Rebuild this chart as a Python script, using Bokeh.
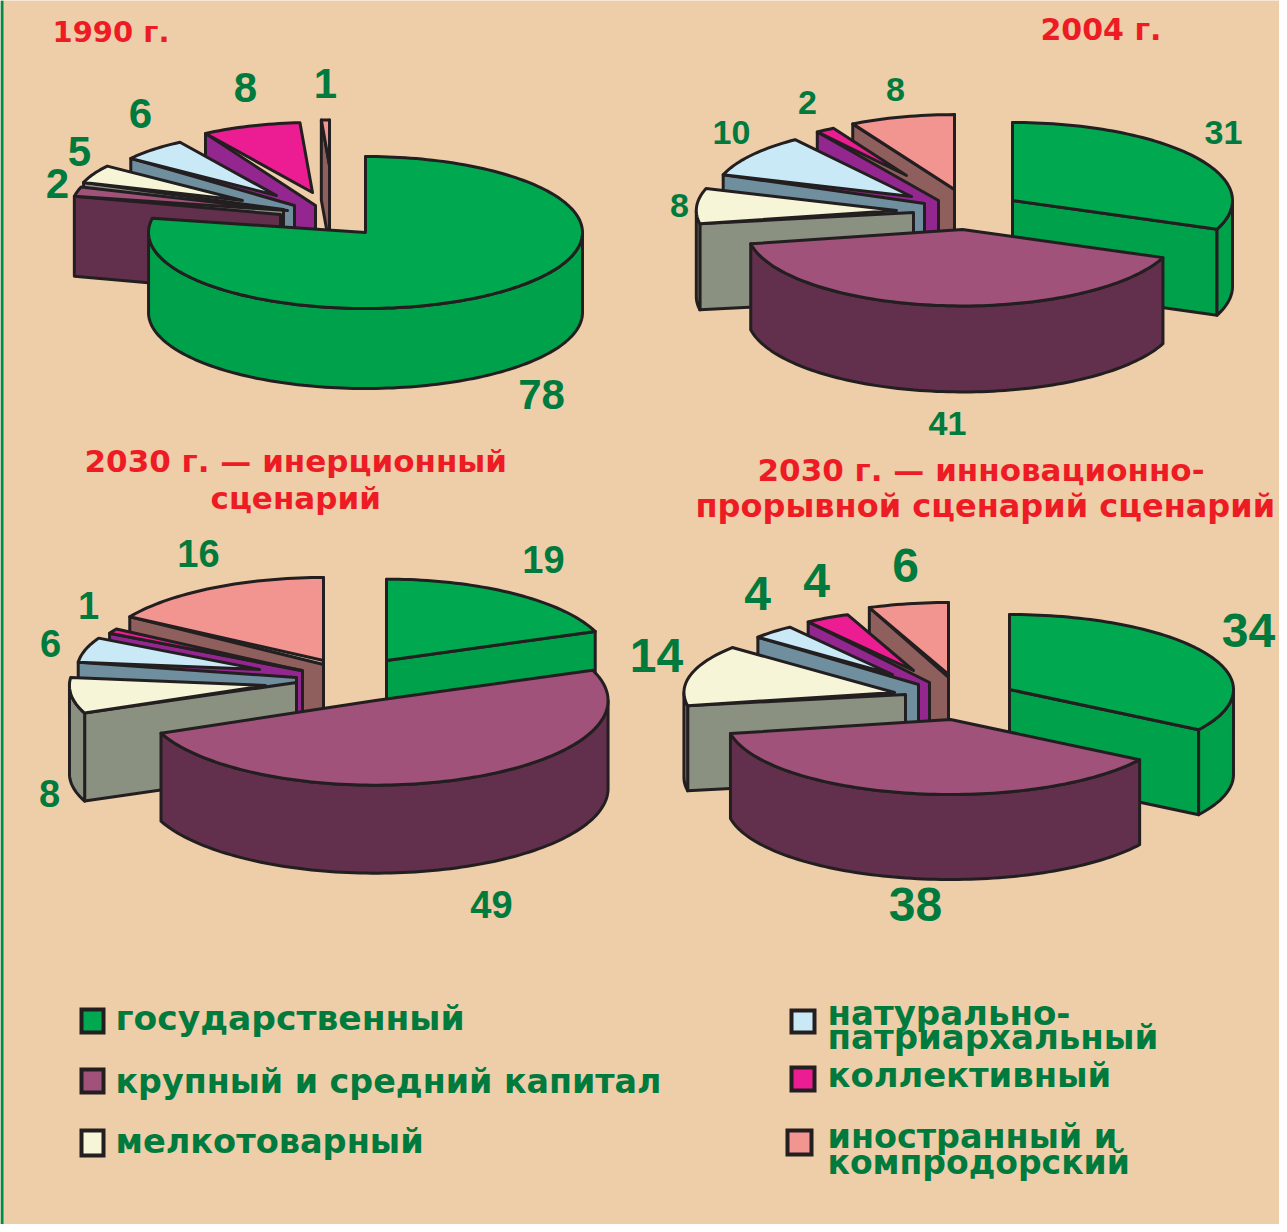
import math
from bokeh.plotting import figure
from bokeh.models import Range1d, ColumnDataSource
from bokeh.core.properties import value
from bokeh.embed import file_html
from bokeh.resources import INLINE

# ---- data ----
CATEGORIES = ["государственный", "крупный и средний капитал", "мелкотоварный",
              "натурально-патриархальный", "коллективный", "иностранный и компродорский"]
VALUES_1990 = [78, 2, 5, 6, 8, 1]
VALUES_2004 = [31, 41, 8, 10, 2, 8]
VALUES_2030_INERT = [19, 49, 8, 6, 1, 16]
VALUES_2030_INNOV = [34, 38, 14, 4, 4, 6]

# ---- styles ----
BG = "#EECDA9"
STRIPE = "#008C4A"
INK = "#231F20"
RED = "#ED1C24"
GREEN_TEXT = "#007A3D"
TOP = ["#00A94F", "#A0527A", "#F6F5D8", "#C9E9F7", "#EC1C92", "#F29490"]
WALL = ["#00A14B", "#622F4D", "#8A9180", "#6F8E9E", "#93278F", "#8E5F5C"]
W, H = 1279, 1224
BASE_K = 0.42  # raises a text so that its baseline lands where it is asked for

# ---- layout: apex of each slice's top, inner end of its wall, radius scale, label anchors ----
PIES = [
    dict(values=VALUES_1990, rx=217, ry=76, depth=80, font="Liberation Sans", size=42,
         order=[5, 4, 3, 2, 1, 0],
         apex=[(373, 240), (295, 218), (250, 208), (284, 203), (320, 200), (337, 173)],
         wall=[(373, 240), (288, 222), (291, 217), (302, 213), (323, 213), (337, 173)],
         scale=[1, 1, .77, .83, .92, .6],
         labels=[(549, 420), (65, 209), (87, 177), (148, 139), (253, 113), (333, 109)]),
    dict(values=VALUES_2004, rx=220, ry=78, depth=86, font="Liberation Sans", size=34,
         order=[0, 5, 4, 3, 2, 1],
         apex=[(1020, 208), (970, 237), (904, 218), (919, 204), (914, 183), (962, 197)],
         wall=[(1020, 208), (970, 237), (921, 220), (932, 211), (946, 208), (962, 197)],
         scale=[1, .98, .91, .9, .69, .96],
         labels=[(1231, 154), (955, 445), (687, 227), (739, 154), (815, 124), (903, 111)]),
    dict(values=VALUES_2030_INERT, rx=228, ry=83, depth=88, font="Liberation Sans", size=38,
         order=[0, 5, 4, 3, 2, 1],
         apex=[(394, 668), (383, 708), (273, 693), (267, 677), (308, 678), (331, 668)],
         wall=[(394, 668), (383, 708), (304, 690), (304, 685), (310, 678), (331, 672)],
         scale=[.98, 1.02, .86, .8, .95, 1],
         labels=[(551, 583), (499, 928), (57, 817), (58, 667), (96, 629), (206, 577)]),
    dict(values=VALUES_2030_INNOV, rx=224, ry=75, depth=85, font="Liberation Sans", size=48,
         order=[0, 5, 4, 3, 2, 1],
         apex=[(1017, 697), (958, 727), (902, 700), (900, 682), (921, 678), (956, 682)],
         wall=[(1017, 697), (958, 727), (913, 702), (926, 692), (937, 690), (956, 685)],
         scale=[1, 1, .94, .78, .8, .96],
         labels=[(1256, 658), (923, 932), (664, 683), (765, 621), (824, 608), (913, 593)]),
]
TITLES = [("1990 г.", 60, 52, 29), ("2004 г.", 1048, 50, 30),
          ("2030 г. — инерционный", 92, 482, 31), ("сценарий", 218, 519, 31),
          ("2030 г. — инновационно-", 765, 491, 31), ("прорывной сценарий сценарий", 703, 527, 32)]
LEGEND_BOXES = [(87, 1015, 113, 1042), (87, 1075, 113, 1102), (87, 1136, 113, 1165),
                (797, 1016, 824, 1042), (797, 1073, 824, 1100), (793, 1136, 821, 1164)]
LEGEND_LINES = [("государственный", 123, 1040, 34.5), ("крупный и средний капитал", 123, 1103, 33.3),
                ("мелкотоварный", 123, 1163, 33.6), ("натурально-", 835, 1035, 34),
                ("патриархальный", 835, 1059, 34), ("коллективный", 835, 1097, 33.8),
                ("иностранный и", 835, 1158, 33.4), ("компродорский", 835, 1184, 33)]


def slice_polys(ax, ay, wx, wy, rx, ry, d, a0, a1, i):
    """visible wall polygons and the top polygon of one slice, back to front"""
    def pt(a):
        t = math.radians(a)
        return ax + rx * math.sin(t), ay - ry * math.cos(t)
    n = max(2, int((a1 - a0) / 1.5))
    angles = [a0 + (a1 - a0) * k / n for k in range(n + 1)]
    arc = [pt(a) for a in angles]
    out = []
    if a1 <= 180 or a1 > 359.9:
        px, py = pt(a1)
        out.append(([wx, px, px, wx], [wy, py, py + d, wy + d], WALL[i]))
    if a0 >= 180 or a0 < 0.1:
        px, py = pt(a0)
        out.append(([wx, px, px, wx], [wy, py, py + d, wy + d], WALL[i]))
    front = [a for a in angles if 90 <= a <= 270]
    if len(front) > 1:
        fp = [pt(a) for a in front]
        out.append(([q[0] for q in fp] + [q[0] for q in fp[::-1]],
                    [q[1] for q in fp] + [q[1] + d for q in fp[::-1]], WALL[i]))
    out.append(([ax] + [q[0] for q in arc], [ay] + [q[1] for q in arc], TOP[i]))
    return out


p = figure(width=W, height=H, output_backend="svg", toolbar_location=None,
           x_range=Range1d(8, 8 + W), y_range=Range1d(8 + H, 8),
           background_fill_color=BG, border_fill_color=BG, outline_line_color=None,
           min_border=0, x_axis_type=None, y_axis_type=None)
p.grid.visible = False

p.quad(left=[8], right=[11], top=[8], bottom=[8 + H], fill_color=STRIPE, line_color=None)

for pie in PIES:
    vals = pie["values"]
    total = sum(vals)
    edges = [0]
    for v in vals:
        edges.append(edges[-1] + 360 * v / total)
    xs, ys, cs = [], [], []
    for i in pie["order"]:
        ax, ay = pie["apex"][i]
        wx, wy = pie["wall"][i]
        s = pie["scale"][i]
        for px, py, c in slice_polys(ax, ay, wx, wy, pie["rx"] * s, pie["ry"] * s, pie["depth"],
                                     edges[i], edges[i + 1], i):
            xs.append(px); ys.append(py); cs.append(c)
    p.patches("xs", "ys", fill_color="c", line_color=INK, line_width=3, line_join="round",
              source=ColumnDataSource(dict(xs=xs, ys=ys, c=cs)))
    lx = [q[0] for q in pie["labels"]]
    ly = [q[1] - BASE_K * pie["size"] for q in pie["labels"]]
    p.text(lx, ly, text=[str(v) for v in vals], text_color=GREEN_TEXT, text_align="center",
           text_baseline="alphabetic", text_font=value(pie["font"]), text_font_style="bold",
           text_font_size=f'{pie["size"]}px')

for t, x, y, s in TITLES:
    p.text([x], [y - BASE_K * s], text=[t], text_color=RED, text_font=value("DejaVu Sans"),
           text_font_style="bold", text_font_size=f"{s}px", text_baseline="alphabetic")

for (l, t, r, b), c in zip(LEGEND_BOXES, TOP):
    p.quad(left=[l + 2], right=[r - 2], top=[t + 2], bottom=[b - 2], fill_color=c,
           line_color=INK, line_width=4, line_join="miter")
for t, x, y, s in LEGEND_LINES:
    p.text([x], [y - BASE_K * s], text=[t], text_color=GREEN_TEXT,
           text_font=value("DejaVu Sans"), text_font_style="bold",
           text_font_size=f"{s}px", text_baseline="alphabetic")

open("out.html", "w").write(file_html(p, INLINE))
